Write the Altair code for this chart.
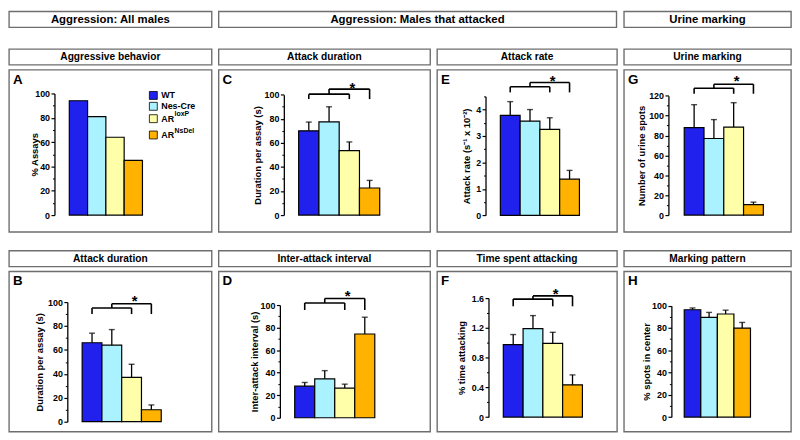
import altair as alt
import pandas as pd

FONT = "Liberation Sans"

# ---------------- data ----------------
groups = ["WT", "Nes-Cre", "AR loxP", "AR NsDel"]
legend_base = ["WT", "Nes-Cre", "AR", "AR"]
legend_sup = ["", "", "loxP", "NsDel"]
bar_colors = ["#2121ee", "#aaf2ff", "#ffffaa", "#ffb300"]

section_titles = ["Aggression: All males", "Aggression: Males that attacked", "Urine marking"]
top_titles = ["Aggressive behavior", "Attack duration", "Attack rate", "Urine marking"]
bottom_titles = ["Attack duration", "Inter-attack interval", "Time spent attacking", "Marking pattern"]

ticks_100 = [0, 20, 40, 60, 80, 100]
minor_100 = [10, 30, 50, 70, 90]

# A: aggressive behavior (% assays)
a_values = [94, 81, 64, 45]
# B: attack duration, all males
b_values = [66, 64, 37, 10]
b_sem = [8, 13, 11, 4]
b_bracket = [95, 98.6, 90]
b_star = 103
# C: attack duration, attackers
c_values = [70, 77.5, 53.5, 22.5]
c_sem = [7.3, 12.5, 7.3, 6.3]
c_bracket = [100.5, 104.7, 96.4]
c_star = 108
# D: inter-attack interval
d_values = [28, 34.5, 26.3, 74.3]
d_sem = [3.3, 7.3, 3.5, 14.9]
d_bracket = [101.8, 105.8, 95.6]
d_star = 111
# E: attack rate
e_values = [3.78, 3.56, 3.25, 1.37]
e_sem = [0.52, 0.44, 0.44, 0.33]
e_ticks = [0, 1, 2, 3, 4]
e_minor = [0.5, 1.5, 2.5, 3.5, 4.5]
e_bracket = [4.86, 5.02, 4.65]
e_star = 5.18
# F: time spent attacking
f_values = [0.975, 1.19, 0.99, 0.434]
f_sem = [0.135, 0.175, 0.15, 0.133]
f_ticks = [0, 0.4, 0.8, 1.2, 1.6]
f_minor = [0.2, 0.6, 1.0, 1.4]
f_bracket = [1.587, 1.63, 1.49]
f_star = 1.70
# G: urine spots
g_values = [88, 77, 88.5, 10.6]
g_sem = [23, 19, 24.5, 2.4]
g_ticks = [0, 20, 40, 60, 80, 100, 120]
g_minor = [10, 30, 50, 70, 90, 110]
g_bracket = [127.6, 131.6, 122]
g_star = 137.5
# H: marking pattern
h_values = [96.4, 89.6, 92.6, 79.9]
h_sem = [1.6, 4.4, 3.4, 5.1]

# ---------------- layout ----------------
COL_W = [205, 214, 182, 169]
SPACE_X = 5
H1, H2 = 164, 162
GAP1, GAP2 = 20, 17

one = pd.DataFrame({"k": [0]})

panels = {
    "A": dict(ylabel="% Assays", values=a_values, sem=None, ymax=100, ticks=ticks_100,
              minor=minor_100, bracket=None, star=None, legend=True,
              lay=(46, 147, 24, 61, 18.5, 148, -20)),
    "B": dict(ylabel="Duration per assay (s)", values=b_values, sem=b_sem, ymax=100,
              ticks=ticks_100, minor=minor_100, bracket=b_bracket, star=b_star,
              lay=(59, 152, 31, 74, 20, 163, -28)),
    "C": dict(ylabel="Duration per assay (s)", values=c_values, sem=c_sem, ymax=100,
              ticks=ticks_100, minor=minor_100, bracket=c_bracket, star=c_star,
              lay=(66, 147, 25.3, 81, 20.5, 179, -27)),
    "D": dict(ylabel="Inter-attack interval (s)", values=d_values, sem=d_sem, ymax=100,
              ticks=ticks_100, minor=minor_100, bracket=d_bracket, star=d_star,
              lay=(62, 148, 34, 77, 20.25, 173, -26)),
    "E": dict(ylabel="Attack rate (s\u207b\u00b9 x 10\u207b\u00b2)", values=e_values, sem=e_sem,
              ymax=4.5, ticks=e_ticks, minor=e_minor, bracket=e_bracket, star=e_star,
              lay=(49, 147.3, 26.9, 64, 20, 160, -19)),
    "F": dict(ylabel="% time attacking", values=f_values, sem=f_sem, ymax=1.6,
              ticks=f_ticks, minor=f_minor, bracket=f_bracket, star=f_star,
              lay=(52, 147.3, 27, 67, 20, 160, -27)),
    "G": dict(ylabel="Number of urine spots", values=g_values, sem=g_sem, ymax=120,
              ticks=g_ticks, minor=g_minor, bracket=g_bracket, star=g_star,
              lay=(45, 147, 26.3, 61, 20, 157, -27)),
    "H": dict(ylabel="% spots in center", values=h_values, sem=h_sem, ymax=100,
              ticks=ticks_100, minor=minor_100, bracket=None, star=None,
              lay=(48, 147.3, 34.7, 61, 16.75, 142, -25)),
}


def title_box(text, w, size):
    return alt.Chart(one).mark_text(
        font=FONT, fontSize=size, fontWeight="bold", color="black", baseline="middle"
    ).encode(
        x=alt.value(w / 2), y=alt.value(8.5), text=alt.value(text)
    ).properties(width=w, height=16)


def make_panel(letter, w, h):
    p = panels[letter]
    ax, y0, ytop, bar0, bw, xend, tx = p["lay"]
    xa = -0.5 - (bar0 - ax) / bw
    xb = 3.5 + (xend - (bar0 + 4 * bw)) / bw
    xs = alt.Scale(domain=[xa, xb], range=[ax, xend], nice=False, zero=False)
    ys = alt.Scale(domain=[0, p["ymax"]], range=[y0, ytop], nice=False, zero=True)

    df = pd.DataFrame({"group": groups, "idx": [0, 1, 2, 3], "value": p["values"]})
    df["left"] = df["idx"] - 0.5
    df["right"] = df["idx"] + 0.5
    df["base"] = 0.0

    yaxis = alt.Axis(orient="left", offset=-ax, values=p["ticks"], format="~r",
                     title=p["ylabel"], titleX=tx, titleBaseline="middle",
                     titleFontSize=9.5, labelFontSize=9, tickSize=3.5, tickWidth=1.2,
                     labelPadding=1.5, domainWidth=1.3, grid=False)
    minor_axis = alt.Axis(orient="left", offset=-ax, values=p["minor"], labels=False,
                          domain=False, tickSize=2, tickWidth=1, grid=False, title=None)
    xaxis = alt.Axis(orient="bottom", offset=y0 - h, labels=False, ticks=False,
                     grid=False, title=None, domainWidth=1.5)

    layers = []
    layers.append(alt.Chart(df).mark_rect(stroke="black", strokeWidth=1.2).encode(
        x=alt.X("left:Q", scale=xs, axis=xaxis),
        x2="right:Q",
        y=alt.Y("value:Q", scale=ys, axis=yaxis),
        y2="base:Q",
        color=alt.Color("group:N", scale=alt.Scale(domain=groups, range=bar_colors), legend=None),
    ))
    layers.append(alt.Chart(df).mark_point(opacity=0).encode(
        x=alt.X("idx:Q", scale=xs, axis=None),
        y=alt.Y("value:Q", scale=ys, axis=minor_axis),
    ))
    if p["sem"] is not None:
        df["upper"] = [v + s for v, s in zip(p["values"], p["sem"])]
        layers.append(alt.Chart(df).mark_rule(color="black", strokeWidth=1.3).encode(
            x=alt.X("idx:Q", scale=xs, axis=None),
            y=alt.Y("value:Q", scale=ys, axis=None),
            y2="upper:Q",
        ))
        layers.append(alt.Chart(df).mark_tick(color="black", orient="horizontal",
                                              size=6, thickness=1.4).encode(
            x=alt.X("idx:Q", scale=xs, axis=None),
            y=alt.Y("upper:Q", scale=ys, axis=None),
        ))
    if p["bracket"] is not None:
        L, R, D = p["bracket"]
        segs = pd.DataFrame({
            "x": [0, 0, 2, 1, 1, 3],
            "x2": [2, 0, 2, 1, 3, 3],
            "y": [L, L, L, L, R, R],
            "y2": [L, D, D, R, R, D],
        })
        layers.append(alt.Chart(segs).mark_rule(color="black", strokeWidth=1.6).encode(
            x=alt.X("x:Q", scale=xs, axis=None), x2="x2:Q",
            y=alt.Y("y:Q", scale=ys, axis=None), y2="y2:Q",
        ))
        star = pd.DataFrame({"x": [2], "y": [p["star"]]})
        layers.append(alt.Chart(star).mark_text(
            text="*", font=FONT, fontSize=15, fontWeight="bold", color="black",
            baseline="alphabetic", dy=8, dx=3
        ).encode(
            x=alt.X("x:Q", scale=xs, axis=None),
            y=alt.Y("y:Q", scale=ys, axis=None),
        ))
    layers.append(alt.Chart(one).mark_text(
        font=FONT, fontSize=13.5, fontWeight="bold", color="black",
        align="left", baseline="alphabetic"
    ).encode(x=alt.value(4), y=alt.value(14), text=alt.value(letter)))

    if p.get("legend"):
        legend_y = [26, 37, 49.5, 66]
        for i in range(4):
            yc = legend_y[i]
            layers.append(alt.Chart(one).mark_rect(
                fill=bar_colors[i], stroke="black", strokeWidth=0.8
            ).encode(x=alt.value(142), x2=alt.value(150),
                     y=alt.value(yc - 4), y2=alt.value(yc + 4)))
            layers.append(alt.Chart(one).mark_text(
                font=FONT, fontSize=9, fontWeight="bold", color="black",
                align="left", baseline="middle"
            ).encode(x=alt.value(154), y=alt.value(yc), text=alt.value(legend_base[i])))
            if legend_sup[i]:
                layers.append(alt.Chart(one).mark_text(
                    font=FONT, fontSize=7, fontWeight="bold", color="black",
                    align="left", baseline="middle"
                ).encode(x=alt.value(167.5), y=alt.value(yc - 4.5),
                         text=alt.value(legend_sup[i])))

    return alt.layer(*layers).resolve_axis(y="independent").properties(width=w, height=h)


row1 = ["A", "C", "E", "G"]
row2 = ["B", "D", "F", "H"]

columns = []
for i in range(4):
    w = COL_W[i]
    top = alt.vconcat(title_box(top_titles[i], w, 10.3), make_panel(row1[i], w, H1), spacing=3)
    bot = alt.vconcat(title_box(bottom_titles[i], w, 10.3), make_panel(row2[i], w, H2), spacing=3)
    columns.append(alt.vconcat(top, bot, spacing=GAP2))

body = alt.hconcat(*columns, spacing=SPACE_X)
header = alt.hconcat(
    title_box(section_titles[0], COL_W[0], 11.5),
    title_box(section_titles[1], COL_W[1] + SPACE_X + COL_W[2] + 1.4, 11.5),
    title_box(section_titles[2], COL_W[3], 11.5),
    spacing=SPACE_X,
)

chart = alt.vconcat(header, body, spacing=GAP1).properties(
    padding=0, background="white"
).configure_view(
    stroke="#6e6e6e", strokeWidth=1.4
).configure_axis(
    labelFont=FONT, titleFont=FONT, labelFontWeight="bold", titleFontWeight="bold",
    labelColor="black", titleColor="black", domainColor="black", tickColor="black"
)

chart.save("out.html", embed_options={"renderer": "svg", "actions": False})
